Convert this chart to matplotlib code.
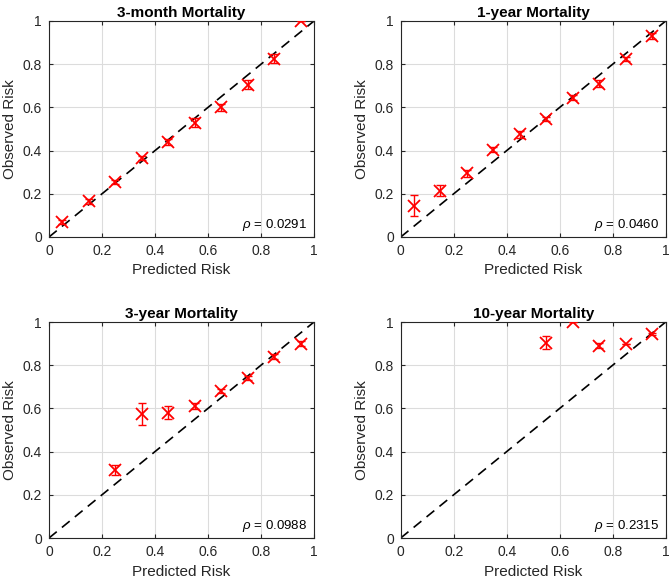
import numpy as np
import matplotlib
matplotlib.use("Agg")
import matplotlib.pyplot as plt

plt.rcParams['font.family'] = ['Liberation Sans', 'DejaVu Sans']
plt.rcParams['mathtext.fontset'] = 'custom'
plt.rcParams['mathtext.it'] = 'Liberation Sans:italic'

# calibration data
titles = ['3-month Mortality', '1-year Mortality', '3-year Mortality', '10-year Mortality']
rho_labels = ['0.0291', '0.0460', '0.0988', '0.2315']

x_3m = [0.05, 0.15, 0.25, 0.35, 0.45, 0.55, 0.65, 0.75, 0.85, 0.95]
y_3m = [0.07, 0.165, 0.255, 0.365, 0.44, 0.53, 0.60, 0.705, 0.825, 1.0]
e_3m = [0.01, 0.01, 0.01, 0.008, 0.015, 0.02, 0.015, 0.022, 0.02, 0.0]

x_1y = [0.05, 0.15, 0.25, 0.35, 0.45, 0.55, 0.65, 0.75, 0.85, 0.95]
y_1y = [0.145, 0.215, 0.295, 0.405, 0.475, 0.545, 0.645, 0.71, 0.825, 0.93]
e_1y = [0.05, 0.025, 0.015, 0.01, 0.015, 0.01, 0.012, 0.015, 0.01, 0.015]

x_3y = [0.25, 0.35, 0.45, 0.55, 0.65, 0.75, 0.85, 0.95]
y_3y = [0.315, 0.575, 0.58, 0.61, 0.68, 0.74, 0.84, 0.90]
e_3y = [0.025, 0.05, 0.03, 0.015, 0.01, 0.01, 0.01, 0.01]

x_10y = [0.55, 0.65, 0.75, 0.85, 0.95]
y_10y = [0.905, 1.0, 0.89, 0.90, 0.945]
e_10y = [0.03, 0.0, 0.012, 0.0, 0.006]

panels = [(x_3m, y_3m, e_3m), (x_1y, y_1y, e_1y), (x_3y, y_3y, e_3y), (x_10y, y_10y, e_10y)]

fig = plt.figure(figsize=(6.69, 5.83), dpi=100)
W, H = 669, 583
boxes = [(49, 21), (400.7, 21), (49, 322), (400.7, 322)]
aw, ah = 265, 216

ticks = [0, 0.2, 0.4, 0.6, 0.8, 1]
tick_labels = ['0', '0.2', '0.4', '0.6', '0.8', '1']

for i, (px, py) in enumerate(boxes):
    ax = fig.add_axes([px / W, 1 - (py + ah) / H, aw / W, ah / H])
    xs, ys, es = panels[i]
    ax.plot([0, 1], [0, 1], 'k--', lw=1.2, dashes=(6, 4), zorder=2)
    ax.errorbar(xs, ys, yerr=es, fmt='none', ecolor='red', elinewidth=1, capsize=3, zorder=3)
    ax.plot(xs, ys, 'x', color='red', ms=9, mew=1.3, zorder=4)
    ax.set_xlim(0, 1)
    ax.set_ylim(0, 1)
    ax.set_xticks(ticks)
    ax.set_xticklabels(tick_labels)
    ax.set_yticks(ticks)
    ax.set_yticklabels(tick_labels)
    ax.grid(True, color='#dcdcdc', lw=0.8)
    ax.set_axisbelow(True)
    ax.tick_params(direction='in', length=3, top=True, right=True, labelsize=10, colors='#262626', pad=5)
    for s in ax.spines.values():
        s.set_color('#262626')
        s.set_linewidth(0.8)
    ax.set_xlabel('Predicted Risk', fontsize=11, color='#262626', labelpad=4)
    ax.set_ylabel('Observed Risk', fontsize=11, color='#262626', labelpad=4)
    ax.set_title(titles[i], fontsize=11, fontweight='bold', pad=3)
    ax.text(0.975, 0.02, r'$\rho$ = ' + rho_labels[i], transform=ax.transAxes,
            ha='right', va='bottom', fontsize=9.5)

fig.savefig('out.png', dpi=100)
